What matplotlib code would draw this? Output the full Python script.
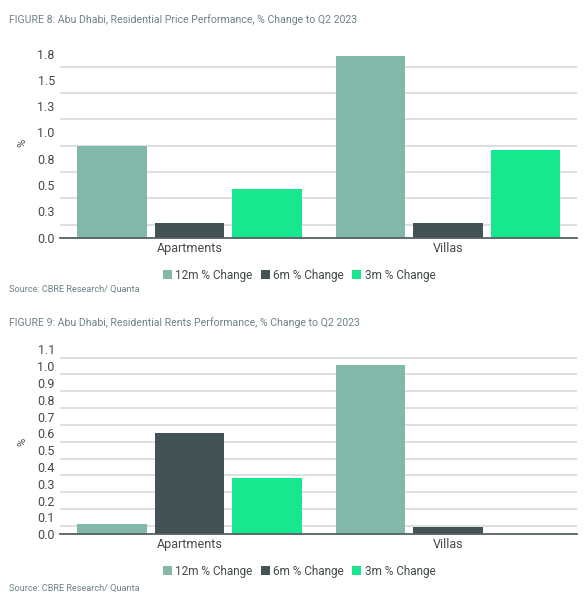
import matplotlib
matplotlib.use("Agg")
from matplotlib import pyplot as plt
import numpy as np

plt.rcParams['font.family'] = ['Roboto', 'DejaVu Sans']

categories = ['Apartments', 'Villas']
series = ['12m % Change', '6m % Change', '3m % Change']
colors = ['#82b9aa', '#435254', '#17e88f']

# figure 8: prices
price_12m = [0.875, 1.727]
price_6m = [0.139, 0.136]
price_3m = [0.459, 0.837]
price_ticks = [0, 0.25, 0.5, 0.75, 1.0, 1.25, 1.5, 1.75]
price_labels = ['0.0', '0.3', '0.5', '0.8', '1.0', '1.3', '1.5', '1.8']

# figure 9: rents
rent_12m = [0.059, 1.008]
rent_6m = [0.602, 0.044]
rent_3m = [0.337, 0.0]
rent_ticks = [0, 0.1, 0.2, 0.3, 0.4, 0.5, 0.6, 0.7, 0.8, 0.9, 1.0, 1.1]
rent_labels = ['0.0', '0.1', '0.2', '0.3', '0.4', '0.5', '0.6', '0.7', '0.8',
               '0.9', '1.0', '1.1']

title_color = '#6e8288'
text_color = '#444a4c'

fig = plt.figure(figsize=(5.84, 6), dpi=100)


def draw_panel(ax, vals, ticks, labels, ymax, step):
    x = np.arange(len(categories))
    w = 0.269
    for i, (v, c, s) in enumerate(zip(vals, colors, series)):
        ax.bar(x + (i - 1) * 0.3, v, w, color=c, label=s, zorder=3)
    ax.set_xlim(-0.5, 1.5)
    ax.set_ylim(0, ymax)
    ax.set_xticks(x)
    ax.set_xticklabels(categories, fontsize=9, color=text_color)
    ax.set_yticks(ticks)
    ax.set_yticklabels(labels, fontsize=9, color=text_color)
    # gridlines sit half a step off the labels, as in the source
    grid = np.arange(step / 2, ymax, step)
    for g in grid:
        ax.axhline(g, color='#d6d6d6', lw=1.1, zorder=1)
    ax.tick_params(length=0, pad=4)
    ax.tick_params(axis='x', pad=3)
    for sp in ['top', 'right', 'left']:
        ax.spines[sp].set_visible(False)
    ax.spines['bottom'].set_color('#555f61')
    ax.spines['bottom'].set_linewidth(1.3)
    ax.spines['bottom'].set_zorder(4)
    ax.set_ylabel('%', fontsize=8, color=text_color, labelpad=7)
    ax.legend(loc='upper center', bbox_to_anchor=(0.462, -0.14), ncol=3,
              frameon=False, fontsize=8.5, handlelength=0.75, handleheight=0.8,
              handletextpad=0.3, columnspacing=0.7, labelcolor=text_color,
              borderaxespad=0)


ax1 = fig.add_axes([0.1034, 0.6038, 0.8846, 0.3157])
draw_panel(ax1, [price_12m, price_6m, price_3m], price_ticks, price_labels, 1.8, 0.25)

ax2 = fig.add_axes([0.1034, 0.1095, 0.8846, 0.3085])
draw_panel(ax2, [rent_12m, rent_6m, rent_3m], rent_ticks, rent_labels, 1.1, 0.1)

fig.text(0.015, 0.967, 'FIGURE 8: Abu Dhabi, Residential Price Performance, % Change to Q2 2023',
         fontsize=7.6, color=title_color, va='center')
fig.text(0.015, 0.518, 'Source: CBRE Research/ Quanta', fontsize=6.6, color=title_color, va='center')
fig.text(0.015, 0.463, 'FIGURE 9: Abu Dhabi, Residential Rents Performance, % Change to Q2 2023',
         fontsize=7.6, color=title_color, va='center')
fig.text(0.015, 0.020, 'Source: CBRE Research/ Quanta', fontsize=6.6, color=title_color, va='center')

fig.savefig('out.png', dpi=100)
